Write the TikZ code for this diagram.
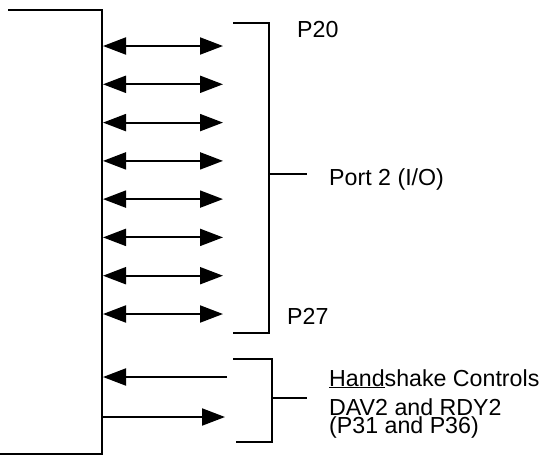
\documentclass[tikz,border=0pt]{standalone}
\usepackage{fontspec}
\setmainfont{Liberation Sans}
\usetikzlibrary{arrows.meta}
\begin{document}
\begin{tikzpicture}[x=1pt,y=-1pt,
  wire/.style={line width=2pt},
  biarrow/.style={wire,{Triangle[length=23pt,width=17pt]}-{Triangle[length=23pt,width=17pt]}},
  rarrow/.style={wire,-{Triangle[length=23pt,width=17pt]}},
  lbl/.style={anchor=base west,inner sep=0pt,font=\fontsize{23.2}{23.2}\selectfont}]
\useasboundingbox (0,0) rectangle (547,456);
% chip outline
\coordinate (ct) at (8,10);
\coordinate (cr) at (102,10);
\coordinate (cb) at (102,454);
\coordinate (cl) at (0,454);
\draw[wire,line join=miter] (ct) -- (cr) -- (cb) -- (cl);
% port arrows
\foreach \i/\y in {0/46,1/84.3,2/122.6,3/160.9,4/199.1,5/237.4,6/275.7,7/314}{
  \coordinate (a\i) at (103,\y);
  \coordinate (b\i) at (223,\y);
  \draw[biarrow] (a\i) -- (b\i);
}
% port bracket
\coordinate (p1) at (233,23);
\coordinate (p2) at (269,23);
\coordinate (p3) at (269,333);
\coordinate (p4) at (233,333);
\draw[wire,line join=miter] (p1) -- (p2) -- (p3) -- (p4);
\coordinate (pm) at (269,174);
\coordinate (pe) at (307,174);
\draw[wire] (pm) -- (pe);
\node[lbl] (p20) at (297,37) {P20};
\node[lbl] (p27) at (287,324) {P27};
\node[lbl] (port) at (329,185) {Port 2 (I/O)};
% handshake arrows
\coordinate (h1s) at (227,377);
\coordinate (h1e) at (103,377);
\draw[rarrow] (h1s) -- (h1e);
\coordinate (h2s) at (102,417);
\coordinate (h2e) at (225,417);
\draw[rarrow] (h2s) -- (h2e);
% handshake bracket
\coordinate (q1) at (233,359);
\coordinate (q2) at (272,359);
\coordinate (q3) at (272,442);
\coordinate (q4) at (236,442);
\draw[wire,line join=miter] (q1) -- (q2) -- (q3) -- (q4);
\coordinate (qm) at (272,398);
\coordinate (qe) at (307,398);
\draw[wire] (qm) -- (qe);
\node[lbl] (hs) at (329,386) {\underline{Hand}shake Controls};
\node[lbl] (dav) at (329,415.5) {DAV2 and RDY2};
\node[lbl] (p31) at (329,433.5) {(P31 and P36)};
\end{tikzpicture}
\end{document}
